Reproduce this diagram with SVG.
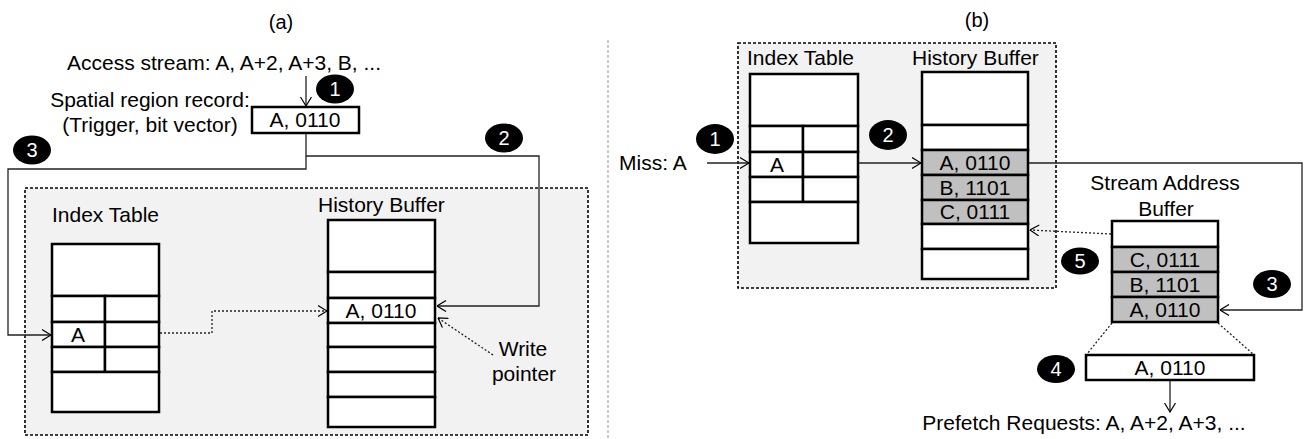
<svg xmlns="http://www.w3.org/2000/svg" width="1307" height="439" viewBox="0 0 1307 439">
<style>
text{font-family:"Liberation Sans",Arial,sans-serif;font-size:21px;fill:#000}
.c{text-anchor:middle}
.title{font-family:"Liberation Sans",Arial,sans-serif;font-size:20px}
.cell{fill:#fff;stroke:#000;stroke-width:2.5}
.g{fill:#c0c0c0}
.region{fill:#f2f2f2;stroke:#000;stroke-width:1.6;stroke-dasharray:3 2}
.ln{fill:none;stroke:#222;stroke-width:1.3}
.dot{fill:none;stroke:#222;stroke-width:1.3;stroke-dasharray:2 2}
.badge ellipse{fill:#000}
.badge text{fill:#fff;font-size:20px;text-anchor:middle}
</style>
<defs>
<marker id="ah" viewBox="0 0 10 12" refX="9.5" refY="6" markerWidth="10" markerHeight="12" markerUnits="userSpaceOnUse" orient="auto">
<path d="M0.5,0.5 L9.5,6 L0.5,11.5" fill="none" stroke="#000" stroke-width="1.2"/>
</marker>
</defs>

<!-- separator -->
<line x1="608" y1="40" x2="608" y2="439" stroke="#bbb" stroke-width="1.5" stroke-dasharray="3 2"/>

<!-- titles -->
<text class="title c" x="281" y="29">(a)</text>
<text class="title c" x="977" y="27">(b)</text>

<!-- ===== Panel (a) ===== -->
<g id="a-region"><rect class="region" x="25" y="188" width="563" height="247"/></g>

<g id="a-access"><text class="c" x="224" y="70">Access stream: A, A+2, A+3, B, ...</text></g>
<g id="a-record-label">
<text class="c" x="150" y="107">Spatial region record:</text>
<text class="c" x="150" y="132">(Trigger, bit vector)</text>
</g>
<g id="a-record">
<rect class="cell" x="252" y="107" width="107" height="26"/>
<text class="c" x="305" y="127">A, 0110</text>
</g>

<g id="a-index">
<text x="52" y="222">Index Table</text>
<rect class="cell" x="52" y="244" width="107" height="52"/>
<rect class="cell" x="52" y="296" width="53" height="26"/>
<rect class="cell" x="105" y="296" width="54" height="26"/>
<rect class="cell" x="52" y="322" width="53" height="25"/>
<rect class="cell" x="105" y="322" width="54" height="25"/>
<rect class="cell" x="52" y="347" width="53" height="25"/>
<rect class="cell" x="105" y="347" width="54" height="25"/>
<rect class="cell" x="52" y="372" width="107" height="40"/>
<text class="c" x="78" y="342">A</text>
</g>

<g id="a-history">
<text x="318" y="212">History Buffer</text>
<rect class="cell" x="328" y="220" width="107" height="52"/>
<rect class="cell" x="328" y="272" width="107" height="26"/>
<rect class="cell" x="328" y="298" width="107" height="25"/>
<rect class="cell" x="328" y="323" width="107" height="24"/>
<rect class="cell" x="328" y="347" width="107" height="25"/>
<rect class="cell" x="328" y="372" width="107" height="25"/>
<rect class="cell" x="328" y="397" width="107" height="30"/>
<text class="c" x="381" y="318">A, 0110</text>
</g>

<g id="a-write-label">
<text class="c" x="523" y="356">Write</text>
<text class="c" x="524" y="381">pointer</text>
</g>

<g id="a-badge1" class="badge"><ellipse cx="335" cy="89" rx="19" ry="14.5"/><text x="335" y="96">1</text></g>
<g id="a-badge2" class="badge"><ellipse cx="504" cy="138" rx="19" ry="14.5"/><text x="504" y="145">2</text></g>
<g id="a-badge3" class="badge"><ellipse cx="32" cy="150" rx="19" ry="14.5"/><text x="32" y="157">3</text></g>

<!-- ===== Panel (b) ===== -->
<g id="b-region"><rect class="region" x="738" y="43" width="318" height="245"/></g>

<g id="b-index">
<text x="747" y="65">Index Table</text>
<rect class="cell" x="750" y="74" width="108" height="52"/>
<rect class="cell" x="750" y="126" width="53" height="26"/>
<rect class="cell" x="803" y="126" width="55" height="26"/>
<rect class="cell" x="750" y="152" width="53" height="25"/>
<rect class="cell" x="803" y="152" width="55" height="25"/>
<rect class="cell" x="750" y="177" width="53" height="25"/>
<rect class="cell" x="803" y="177" width="55" height="25"/>
<rect class="cell" x="750" y="202" width="108" height="41"/>
<text class="c" x="777" y="172">A</text>
</g>

<g id="b-history">
<text x="912" y="65">History Buffer</text>
<rect class="cell" x="922" y="72" width="106" height="53"/>
<rect class="cell" x="922" y="125" width="106" height="25"/>
<rect class="cell g" x="922" y="150" width="106" height="25"/>
<rect class="cell g" x="922" y="175" width="106" height="25"/>
<rect class="cell g" x="922" y="200" width="106" height="24"/>
<rect class="cell" x="922" y="224" width="106" height="25"/>
<rect class="cell" x="922" y="249" width="106" height="30"/>
<text class="c" x="975" y="170">A, 0110</text>
<text class="c" x="975" y="195">B, 1101</text>
<text class="c" x="975" y="219">C, 0111</text>
</g>

<g id="b-miss"><text x="619" y="170">Miss: A</text></g>

<g id="b-sab">
<text class="c" x="1165" y="190">Stream Address</text>
<text class="c" x="1166" y="216">Buffer</text>
<rect class="cell" x="1112" y="221" width="106" height="26"/>
<rect class="cell g" x="1112" y="247" width="106" height="25"/>
<rect class="cell g" x="1112" y="272" width="106" height="25"/>
<rect class="cell g" x="1112" y="297" width="106" height="25"/>
<text class="c" x="1165" y="267">C, 0111</text>
<text class="c" x="1165" y="292">B, 1101</text>
<text class="c" x="1165" y="317">A, 0110</text>
</g>

<g id="b-current">
<rect class="cell" x="1086" y="355" width="168" height="25"/>
<text class="c" x="1170" y="375">A, 0110</text>
</g>

<g id="b-prefetch"><text class="c" x="1084" y="430">Prefetch Requests: A, A+2, A+3, ...</text></g>

<g id="b-badge1" class="badge"><ellipse cx="715" cy="139" rx="19" ry="15"/><text x="715" y="146">1</text></g>
<g id="b-badge2" class="badge"><ellipse cx="888" cy="135" rx="19" ry="15"/><text x="888" y="142">2</text></g>
<g id="b-badge3" class="badge"><ellipse cx="1272" cy="284" rx="19" ry="14"/><text x="1272" y="291">3</text></g>
<g id="b-badge4" class="badge"><ellipse cx="1056" cy="369" rx="19" ry="14"/><text x="1056" y="376">4</text></g>
<g id="b-badge5" class="badge"><ellipse cx="1080" cy="261" rx="19" ry="13.5"/><text x="1080" y="268">5</text></g>

<!-- connectors -->
<g id="connectors">
<path class="ln" d="M306,76 V106" marker-end="url(#ah)"/>
<path class="ln" d="M306,134 V156 H539 V306 H437" marker-end="url(#ah)"/>
<path class="ln" d="M306,156 V169 H8 V335 H51" marker-end="url(#ah)"/>
<path class="dot" d="M160,333 H212 V311 H327" marker-end="url(#ah)"/>
<path class="dot" d="M493,355 L438,318" marker-end="url(#ah)"/>
<path class="ln" d="M707,163 H749" marker-end="url(#ah)"/>
<path class="ln" d="M859,163 H921" marker-end="url(#ah)"/>
<path class="ln" d="M1029,163 H1302 V310 H1220" marker-end="url(#ah)"/>
<path class="dot" d="M1111,234 L1030,230" marker-end="url(#ah)"/>
<path class="dot" d="M1112,323 L1087,354"/>
<path class="dot" d="M1218,323 L1253,354"/>
<path class="ln" d="M1170,381 V412" marker-end="url(#ah)"/>
</g>
</svg>
